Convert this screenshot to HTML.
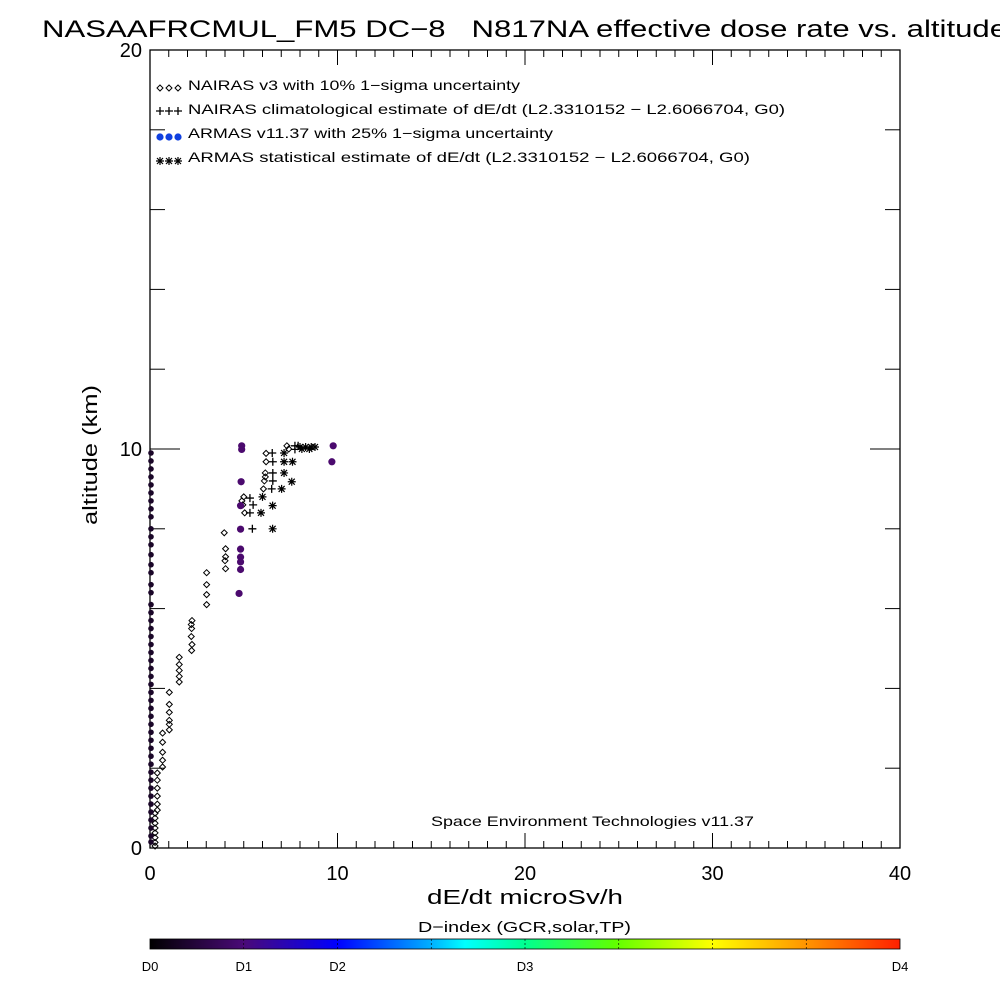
<!DOCTYPE html>
<html><head><meta charset="utf-8"><style>
html,body{margin:0;padding:0;background:#fff;width:1000px;height:1000px;overflow:hidden}
text{font-family:"Liberation Sans",sans-serif;fill:#000;white-space:pre}
</style></head><body>
<svg id="chart" width="1000" height="1000" xmlns="http://www.w3.org/2000/svg">
<defs>
<linearGradient id="cg" x1="0" x2="1" y1="0" y2="0">
<stop offset="0" stop-color="#000000"/>
<stop offset="0.125" stop-color="#4a0a78"/>
<stop offset="0.25" stop-color="#0000ff"/>
<stop offset="0.375" stop-color="#00b0ff"/>
<stop offset="0.42" stop-color="#00ffff"/>
<stop offset="0.5" stop-color="#00ff90"/>
<stop offset="0.62" stop-color="#60ff00"/>
<stop offset="0.75" stop-color="#ffff00"/>
<stop offset="0.88" stop-color="#ff9000"/>
<stop offset="1" stop-color="#ff2000"/>
</linearGradient>
</defs>
<text x="42" y="37" font-size="24" textLength="965" lengthAdjust="spacingAndGlyphs">NASAAFRCMUL_FM5 DC−8   N817NA effective dose rate vs. altitude</text>
<rect x="150" y="50" width="750" height="798" fill="none" stroke="#000" stroke-width="1.3"/>
<g id="ticks"></g>
<g id="marks"></g>
<text transform="translate(97,455) rotate(-90)" text-anchor="middle" font-size="20" textLength="140" lengthAdjust="spacingAndGlyphs">altitude (km)</text>
<text x="427" y="904" font-size="20" textLength="196" lengthAdjust="spacingAndGlyphs">dE/dt microSv/h</text>
<g font-size="14">
<text x="188" y="90" textLength="332" lengthAdjust="spacingAndGlyphs">NAIRAS v3 with 10% 1−sigma uncertainty</text>
<text x="188" y="114" textLength="597" lengthAdjust="spacingAndGlyphs">NAIRAS climatological estimate of dE/dt (L2.3310152 − L2.6066704, G0)</text>
<text x="188" y="138" textLength="365" lengthAdjust="spacingAndGlyphs">ARMAS v11.37 with 25% 1−sigma uncertainty</text>
<text x="188" y="162" textLength="562" lengthAdjust="spacingAndGlyphs">ARMAS statistical estimate of dE/dt (L2.3310152 − L2.6066704, G0)</text>
</g>
<g id="legsym"></g>
<text x="431" y="826" font-size="14" textLength="323" lengthAdjust="spacingAndGlyphs">Space Environment Technologies v11.37</text>
<text x="418" y="932" font-size="15" textLength="213" lengthAdjust="spacingAndGlyphs">D−index (GCR,solar,TP)</text>
<rect x="150" y="939" width="750" height="10" fill="url(#cg)" stroke="#000" stroke-width="0.8"/>
<g id="cbar"></g>
</svg>
<script>
const xTicks=[0,10,20,30,40];
const yTicks=[0,10,20];
const cbLabels=["D0","D1","D2","D3","D4"];
const cbPos=[0,0.125,0.25,0.5,1];
// NAIRAS v3
const nairasV=[7.3,7.4,6.19,6.19,6.15,6.15,6.1,6.05,5.0,4.9,4.95,5.05,3.96,4.03,4.03,4.0,4.03,3.02,3.02,3.02,3.02,2.24,2.22,2.2,2.24,2.22,2.2,1.56,1.56,1.56,1.56,1.56,1.03,1.03,1.03,1.03,1.03,1.03,0.67,0.67,0.67,0.67,0.67,0.39,0.39,0.39,0.39,0.39,0.39,0.27,0.27,0.27,0.27,0.27,0.27,0.27,0.27];
const nairasA=[10.08,10.0,9.89,9.68,9.4,9.3,9.2,9.0,8.8,8.7,8.6,8.4,7.9,7.5,7.3,7.2,7.0,6.9,6.6,6.35,6.1,5.7,5.5,5.3,5.1,4.95,5.6,4.78,4.6,4.45,4.3,4.16,3.9,3.6,3.4,3.2,3.1,2.96,2.88,2.65,2.4,2.2,2.03,1.88,1.7,1.5,1.3,1.1,0.95,0.87,0.75,0.62,0.5,0.38,0.26,0.14,0.05];
// NAIRAS climatological
const climV=[7.73,7.9,7.73,6.52,6.55,6.55,6.55,6.49,5.33,5.5,5.33,5.46];
const climA=[10.08,10.08,9.99,9.9,9.68,9.4,9.2,9.0,8.77,8.6,8.4,8.0];
// ARMAS measurements
const armasV=[4.89,4.89,9.77,9.7,4.86,4.83,4.83,4.83,4.83,4.83,4.83,4.75];
const armasA=[10.08,9.99,10.08,9.68,9.18,8.58,7.99,7.49,7.29,7.17,6.98,6.38];
const armasZeroA=[9.9,9.7,9.5,9.3,9.1,8.9,8.7,8.5,8.3,8.0,7.8,7.6,7.35,7.1,6.9,6.6,6.4,6.1,5.9,5.7,5.5,5.3,5.1,4.9,4.7,4.5,4.3,4.1,3.9,3.7,3.5,3.3,3.1,2.9,2.7,2.5,2.3,2.1,1.9,1.7,1.5,1.3,1.1,0.9,0.7,0.5,0.3,0.15];
// ARMAS statistical
const statV=[7.15,7.15,7.6,7.15,7.56,7.02,6.0,6.54,5.92,6.54,8.0,8.3,8.6,8.8,8.1,8.5];
const statA=[9.9,9.68,9.68,9.4,9.18,9.0,8.8,8.58,8.4,8.0,10.05,10.05,10.05,10.05,10.0,10.0];

const NS="http://www.w3.org/2000/svg";
const X0=150,X1=900,Y0=848,Y1=50;
const xs=v=>X0+(v/40)*(X1-X0);
const ys=a=>Y0-(a/20)*(Y0-Y1);
function mk(tag,attrs,parent){const e=document.createElementNS(NS,tag);for(const k in attrs)e.setAttribute(k,attrs[k]);parent.appendChild(e);return e;}
const tg=document.getElementById('ticks');
for(let v=0;v<=40;v++){const L=(v%10===0)?15:7;const x=xs(v);
 let t=mk('line',{x1:x,x2:x,y1:Y0,y2:Y0-L,stroke:'#000'},tg);
 t=mk('line',{x1:x,x2:x,y1:Y1,y2:Y1+L,stroke:'#000'},tg);}
for(let a=0;a<=20;a+=2){const L=(a%10===0)?30:15;const y=ys(a);
 let t=mk('line',{x1:X0,x2:X0+L,y1:y,y2:y,stroke:'#000'},tg);
 t=mk('line',{x1:X1,x2:X1-L,y1:y,y2:y,stroke:'#000'},tg);}
xTicks.forEach(v=>{const t=mk('text',{x:xs(v),y:880,'text-anchor':'middle','font-size':'20'},tg);t.textContent=v;});
yTicks.forEach(a=>{const t=mk('text',{x:142,y:ys(a)+7,'text-anchor':'end','font-size':'20'},tg);t.textContent=a;});
const mg=document.getElementById('marks');
function diamond(x,y,p){return mk('path',{d:`M${x-3},${y}L${x},${y-3}L${x+3},${y}L${x},${y+3}Z`,fill:'none',stroke:'#000','stroke-width':'1'},p);}
function plus(x,y,p){return mk('path',{d:`M${x-4},${y}H${x+4}M${x},${y-4}V${y+4}`,stroke:'#000','stroke-width':'1.3'},p);}
function star(x,y,p){return mk('path',{d:`M${x-4},${y}H${x+4}M${x},${y-4}V${y+4}M${x-3},${y-3}L${x+3},${y+3}M${x-3},${y+3}L${x+3},${y-3}`,stroke:'#000','stroke-width':'1.2'},p);}
function dot(x,y,p,c){return mk('circle',{cx:x,cy:y,r:3.6,fill:c||'#4b0a6e'},p);}
nairasV.forEach((v,i)=>{const e=diamond(xs(v),ys(nairasA[i]),mg);});
climV.forEach((v,i)=>{const e=plus(xs(v),ys(climA[i]),mg);});
statV.forEach((v,i)=>{const e=star(xs(v),ys(statA[i]),mg);});
armasV.forEach((v,i)=>{const e=dot(xs(v),ys(armasA[i]),mg);});
armasZeroA.forEach(a=>{const e=mk('circle',{cx:xs(0)+1,cy:ys(a),r:2.8,fill:'#1a0628'},mg);});
const lg=document.getElementById('legsym');
[0,1,2].forEach(k=>{const x=160+k*9;
 let e=diamond(x,88,lg);
 e=plus(x,111,lg);
 e=dot(x,137,lg,'#1040e0');
 e=star(x,161,lg);});
const cb=document.getElementById('cbar');
cbLabels.forEach((l,i)=>{const x=150+cbPos[i]*750;const t=mk('text',{x:x,y:971,'text-anchor':'middle','font-size':'13'},cb);t.textContent=l;});
[0.125,0.25,0.375,0.5,0.625,0.75,0.875].forEach(f=>{const t=mk('line',{x1:150+f*750,x2:150+f*750,y1:939,y2:949,stroke:'#000','stroke-width':'0.6','stroke-dasharray':'2,2'},cb);});
</script>
</body></html>
